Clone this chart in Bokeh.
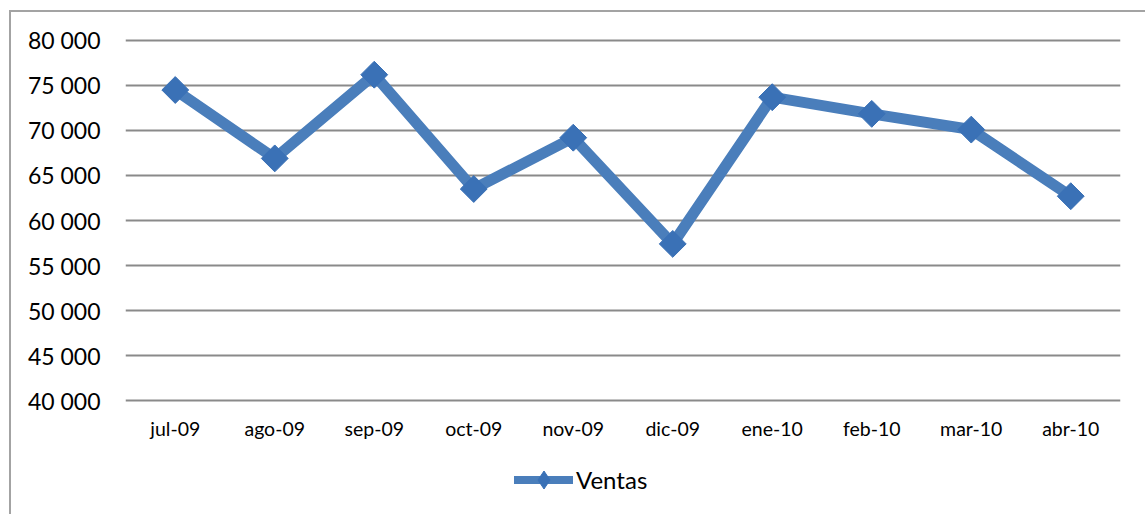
import numpy as np
from bokeh.plotting import figure
from bokeh.layouts import column
from bokeh.models import Legend, LegendItem, FixedTicker, Range1d
from bokeh.embed import file_html
from bokeh.resources import INLINE

months = ["jul-09", "ago-09", "sep-09", "oct-09", "nov-09", "dic-09",
          "ene-10", "feb-10", "mar-10", "abr-10"]
ventas = [74500, 66900, 76200, 63500, 69200, 57400, 73700, 71850, 70100, 62700]
y_ticks = [40000, 45000, 50000, 55000, 60000, 65000, 70000, 75000, 80000]
y_tick_labels = ["40 000", "45 000", "50 000", "55 000", "60 000", "65 000",
                 "70 000", "75 000", "80 000"]
series_name = "Ventas"

FONT = "Lato"
LINE_COLOR = "#4a7ebb"
MARK_COLOR = "#3a71b6"
GRID_COLOR = "#8a8a8a"

# main chart
pad = 222  # small pad so the 40 000 / 80 000 gridlines are not clipped
p = figure(x_range=months, y_range=(y_ticks[0] - pad, y_ticks[-1] + pad),
           width=1145, height=455,
           output_backend="svg", toolbar_location=None,
           min_border_left=125, min_border_right=25,
           min_border_top=38, min_border_bottom=53)
p.outline_line_color = None
p.background_fill_color = "white"
p.border_fill_color = None

line = p.line(months, ventas, line_color=LINE_COLOR, line_width=11,
              line_join="miter")
marks = p.scatter(months, ventas, marker="square", angle=np.pi / 4, size=19,
                  fill_color=MARK_COLOR, line_color=MARK_COLOR)

p.xgrid.grid_line_color = None
p.ygrid.grid_line_color = GRID_COLOR
p.ygrid.grid_line_width = 2
p.yaxis.ticker = FixedTicker(ticks=y_ticks)
p.yaxis.major_label_overrides = dict(zip(y_ticks, y_tick_labels))

for ax in (p.xaxis[0], p.yaxis[0]):
    ax.axis_line_color = None
    ax.major_tick_line_color = None
    ax.minor_tick_line_color = None
    ax.major_tick_out = 0
    ax.major_tick_in = 0
    ax.major_label_text_font = FONT
    ax.major_label_text_color = "black"

p.yaxis.major_label_text_font_size = "23px"
p.yaxis.major_label_standoff = 25
p.xaxis.major_label_text_font_size = "19.5px"
p.xaxis.major_label_standoff = 14

# legend strip underneath (shares the month axis; its series lies off-range,
# so only the legend key is visible)
lg = figure(x_range=p.x_range, y_range=Range1d(0, 1),
            width=1145, height=59, output_backend="svg", toolbar_location=None,
            x_axis_location=None, y_axis_location=None,
            min_border_left=125, min_border_right=25,
            min_border_top=0, min_border_bottom=0)
lg.outline_line_color = None
lg.grid.grid_line_color = None
lg.border_fill_color = None
lg.background_fill_color = None
key_line = lg.line(months, ventas, line_color=LINE_COLOR, line_width=8,
                   line_cap="round")
key_mark = lg.scatter(months, ventas, marker="diamond", fill_color=MARK_COLOR,
                      line_color=MARK_COLOR)
legend = Legend(items=[LegendItem(label=series_name, renderers=[key_line, key_mark])],
                orientation="horizontal", location=(389, 12),
                label_text_font=FONT, label_text_font_size="24px",
                label_text_color="black",
                glyph_width=59, glyph_height=45, label_standoff=3,
                border_line_color=None, background_fill_alpha=0,
                margin=0, padding=0)
lg.add_layout(legend, "center")

layout = column(p, lg, spacing=0)

html = file_html(layout, INLINE)
frame_div = ('<div style="position:fixed;left:9px;top:10px;width:3000px;height:3000px;'
             'border-left:2px solid #a3a3a3;border-top:2px solid #a3a3a3;'
             'pointer-events:none;z-index:10;"></div>')
html = html.replace("</body>", frame_div + "</body>")
open("out.html", "w").write(html)
